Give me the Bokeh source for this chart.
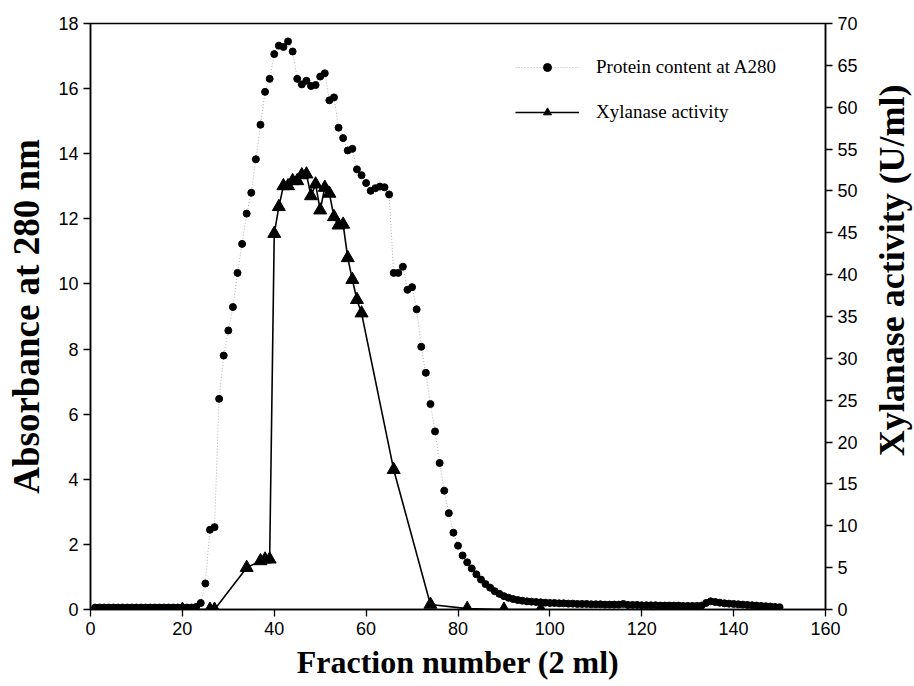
import math
from bokeh.plotting import figure
from bokeh.layouts import row
from bokeh.models import Range1d, LinearAxis, Legend, LegendItem, FixedTicker, Label
from bokeh.embed import file_html
from bokeh.resources import INLINE

# Protein content (A280), fractions 1..150
fraction = list(range(1, 151))
protein = [
    0.06, 0.06, 0.06, 0.06, 0.06, 0.06, 0.06, 0.06, 0.06, 0.06,
    0.06, 0.06, 0.06, 0.06, 0.06, 0.06, 0.06, 0.06, 0.06, 0.05,
    0.06, 0.06, 0.08, 0.20, 0.80, 2.45, 2.53, 6.47, 7.80, 8.57,
    9.29, 10.34, 11.23, 12.16, 12.80, 13.83, 14.89, 15.90, 16.30, 17.06,
    17.32, 17.28, 17.45, 17.14, 16.30, 16.13, 16.24, 16.08, 16.11, 16.37,
    16.47, 15.64, 15.73, 14.80, 14.48, 14.10, 14.15, 13.52, 13.34, 13.10,
    12.86, 12.94, 12.99, 12.97, 12.75, 10.34, 10.34, 10.53, 9.82, 9.90,
    9.22, 8.07, 7.27, 6.31, 5.47, 4.50, 3.65, 2.96, 2.36, 1.96,
    1.66, 1.45, 1.26, 1.08, 0.92, 0.78, 0.67, 0.56, 0.48, 0.41,
    0.36, 0.32, 0.29, 0.27, 0.25, 0.24, 0.23, 0.22, 0.21, 0.20,
    0.20, 0.19, 0.19, 0.18, 0.18, 0.17, 0.17, 0.17, 0.16, 0.16,
    0.16, 0.15, 0.15, 0.15, 0.15, 0.17, 0.14, 0.14, 0.14, 0.13,
    0.13, 0.13, 0.13, 0.12, 0.12, 0.12, 0.12, 0.12, 0.11, 0.11,
    0.11, 0.11, 0.12, 0.20, 0.25, 0.23, 0.21, 0.19, 0.18, 0.17,
    0.16, 0.15, 0.14, 0.13, 0.12, 0.11, 0.10, 0.09, 0.08, 0.07,
]

# Xylanase activity (U/ml)
xyl_fraction = [20, 26, 27, 34, 37, 38, 39, 40, 41, 42, 43, 44, 45, 46, 47, 48,
                49, 50, 51, 52, 53, 54, 55, 56, 57, 58, 59, 66, 74, 82, 90, 98]
xylanase = [0.0, 0.0, 0.0, 5.0, 5.8, 6.0, 6.0, 44.9, 48.1, 50.6, 50.6, 51.2, 51.2,
            51.9, 52.0, 49.4, 50.8, 47.7, 50.4, 49.7, 46.9, 45.9, 46.0, 42.0,
            39.4, 37.0, 35.4, 16.7, 0.6, 0.1, 0.0, 0.0]

x_ticks = [0, 20, 40, 60, 80, 100, 120, 140, 160]
left_ticks = [0, 2, 4, 6, 8, 10, 12, 14, 16, 18]
right_ticks = [0, 5, 10, 15, 20, 25, 30, 35, 40, 45, 50, 55, 60, 65, 70]

TICK_FONT = "Liberation Sans"
TITLE_FONT = "Liberation Serif"

p = figure(width=864, height=686, output_backend="svg", toolbar_location=None,
           x_range=Range1d(0, 160), y_range=Range1d(0, 18),
           min_border_left=90, min_border_right=39, min_border_top=23, min_border_bottom=77)
p.extra_y_ranges = {"xyl": Range1d(0, 70)}
p.grid.visible = False
p.outline_line_color = "black"
p.outline_line_width = 1.5
p.background_fill_color = "white"
p.border_fill_color = "white"

# protein series
pl = p.line(fraction, protein, line_color="#b0b0b0", line_dash="1 2", line_width=1)
ps = p.scatter(fraction, protein, marker="circle", size=7, fill_color="black", line_color="black")

# xylanase series
xl = p.line(xyl_fraction, xylanase, line_color="black", line_width=1.6, y_range_name="xyl")
xs = p.scatter(xyl_fraction, xylanase, marker="triangle", size=13, fill_color="black",
               line_color="black", y_range_name="xyl")

right = LinearAxis(y_range_name="xyl")
p.add_layout(right, "right")

for ax in p.xaxis + p.yaxis:
    ax.major_label_text_font = TICK_FONT
    ax.major_label_text_font_size = "18px"
    ax.major_label_text_color = "black"
    ax.axis_line_color = "black"
    ax.axis_line_width = 1.5
    ax.major_tick_line_color = "black"
    ax.major_tick_line_width = 1.3
    ax.major_tick_out = 7
    ax.major_tick_in = 0
    ax.minor_tick_line_color = None
    ax.axis_label_text_font = TITLE_FONT
    ax.axis_label_text_font_style = "bold"
    ax.axis_label_text_color = "black"

p.xaxis.ticker = FixedTicker(ticks=x_ticks)
p.yaxis[0].ticker = FixedTicker(ticks=left_ticks)
right.ticker = FixedTicker(ticks=right_ticks)

p.xaxis.axis_label = "Fraction number (2 ml)"
p.xaxis.axis_label_text_font_size = "32px"
p.xaxis.axis_label_standoff = 6
p.yaxis[0].axis_label = "Absorbance at 280 nm"
p.yaxis[0].axis_label_text_font_size = "37px"
p.yaxis[0].axis_label_standoff = 8

legend = Legend(items=[
    LegendItem(label="Protein content at A280", renderers=[pl, ps]),
    LegendItem(label="Xylanase activity", renderers=[xl, xs]),
], location=(425, 486))
legend.label_text_font = TITLE_FONT
legend.label_text_font_size = "19px"
legend.label_text_color = "black"
legend.glyph_width = 64
legend.glyph_height = 20
legend.label_height = 20
legend.spacing = 23
legend.padding = 0
legend.margin = 0
legend.label_standoff = 17
legend.border_line_color = None
legend.background_fill_alpha = 0
p.add_layout(legend)

# narrow strip on the right that carries the right-hand axis title (reads bottom-to-top)
p2 = figure(width=50, height=686, output_backend="svg", toolbar_location=None,
            x_range=Range1d(0, 50), y_range=Range1d(0, 686),
            min_border=0, min_border_left=0, min_border_right=0,
            min_border_top=0, min_border_bottom=0)
p2.axis.visible = False
p2.grid.visible = False
p2.outline_line_color = None
p2.background_fill_color = "white"
p2.border_fill_color = "white"
p2.add_layout(Label(x=27, y=397, text="Xylanase activity (U/ml)", angle=math.pi / 2,
                    text_align="center", text_baseline="middle",
                    text_font=TITLE_FONT, text_font_style="bold",
                    text_font_size="36px", text_color="black"))

layout = row(p, p2, spacing=0)
open("out.html", "w").write(file_html(layout, INLINE))
